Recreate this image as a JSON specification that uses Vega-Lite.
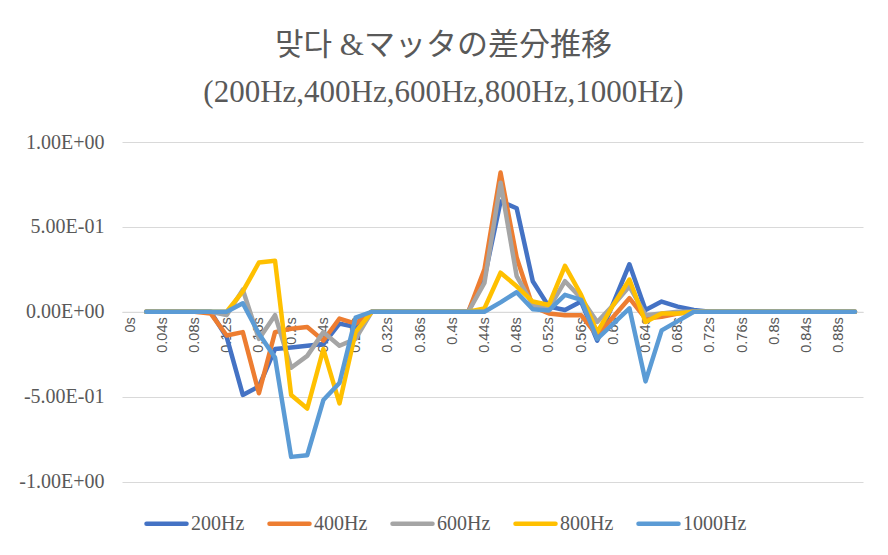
{
  "$schema": "https://vega.github.io/schema/vega-lite/v6.json",
  "width": 741,
  "height": 339.5,
  "autosize": {"type": "none"},
  "padding": {"left": 122, "top": 142, "right": 25, "bottom": 73.5},
  "background": "white",
  "title": {
    "text": ["맞다 &マッタの差分推移", "(200Hz,400Hz,600Hz,800Hz,1000Hz)"],
    "anchor": "middle",
    "dx": -49,
    "offset": 23,
    "fontSize": 31,
    "lineHeight": 47,
    "fontWeight": "normal",
    "font": "Liberation Serif, Noto Sans CJK KR, Noto Sans CJK JP",
    "color": "#595959"
  },
  "data": {
    "values": [
      {"t": 0.02, "s": "200Hz", "v": 0}, {"t": 0.04, "s": "200Hz", "v": 0}, {"t": 0.06, "s": "200Hz", "v": 0}, {"t": 0.08, "s": "200Hz", "v": 0},
      {"t": 0.1, "s": "200Hz", "v": 0}, {"t": 0.12, "s": "200Hz", "v": -0.15}, {"t": 0.14, "s": "200Hz", "v": -0.49}, {"t": 0.16, "s": "200Hz", "v": -0.44},
      {"t": 0.18, "s": "200Hz", "v": -0.22}, {"t": 0.2, "s": "200Hz", "v": -0.21}, {"t": 0.22, "s": "200Hz", "v": -0.2}, {"t": 0.24, "s": "200Hz", "v": -0.19},
      {"t": 0.26, "s": "200Hz", "v": -0.07}, {"t": 0.28, "s": "200Hz", "v": -0.09}, {"t": 0.3, "s": "200Hz", "v": 0}, {"t": 0.32, "s": "200Hz", "v": 0},
      {"t": 0.34, "s": "200Hz", "v": 0}, {"t": 0.36, "s": "200Hz", "v": 0}, {"t": 0.38, "s": "200Hz", "v": 0}, {"t": 0.4, "s": "200Hz", "v": 0},
      {"t": 0.42, "s": "200Hz", "v": 0}, {"t": 0.44, "s": "200Hz", "v": 0.2}, {"t": 0.46, "s": "200Hz", "v": 0.65}, {"t": 0.48, "s": "200Hz", "v": 0.61},
      {"t": 0.5, "s": "200Hz", "v": 0.18}, {"t": 0.52, "s": "200Hz", "v": 0.03}, {"t": 0.54, "s": "200Hz", "v": 0.01}, {"t": 0.56, "s": "200Hz", "v": 0.06},
      {"t": 0.58, "s": "200Hz", "v": -0.17}, {"t": 0.6, "s": "200Hz", "v": 0.05}, {"t": 0.62, "s": "200Hz", "v": 0.28}, {"t": 0.64, "s": "200Hz", "v": 0.01},
      {"t": 0.66, "s": "200Hz", "v": 0.06}, {"t": 0.68, "s": "200Hz", "v": 0.03}, {"t": 0.7, "s": "200Hz", "v": 0.01}, {"t": 0.72, "s": "200Hz", "v": 0},
      {"t": 0.74, "s": "200Hz", "v": 0}, {"t": 0.76, "s": "200Hz", "v": 0}, {"t": 0.78, "s": "200Hz", "v": 0}, {"t": 0.8, "s": "200Hz", "v": 0},
      {"t": 0.82, "s": "200Hz", "v": 0}, {"t": 0.84, "s": "200Hz", "v": 0}, {"t": 0.86, "s": "200Hz", "v": 0}, {"t": 0.88, "s": "200Hz", "v": 0},
      {"t": 0.9, "s": "200Hz", "v": 0},

      {"t": 0.02, "s": "400Hz", "v": 0}, {"t": 0.04, "s": "400Hz", "v": 0}, {"t": 0.06, "s": "400Hz", "v": 0}, {"t": 0.08, "s": "400Hz", "v": 0},
      {"t": 0.1, "s": "400Hz", "v": -0.01}, {"t": 0.12, "s": "400Hz", "v": -0.14}, {"t": 0.14, "s": "400Hz", "v": -0.12}, {"t": 0.16, "s": "400Hz", "v": -0.48},
      {"t": 0.18, "s": "400Hz", "v": -0.12}, {"t": 0.2, "s": "400Hz", "v": -0.1}, {"t": 0.22, "s": "400Hz", "v": -0.09}, {"t": 0.24, "s": "400Hz", "v": -0.17},
      {"t": 0.26, "s": "400Hz", "v": -0.04}, {"t": 0.28, "s": "400Hz", "v": -0.07}, {"t": 0.3, "s": "400Hz", "v": 0}, {"t": 0.32, "s": "400Hz", "v": 0},
      {"t": 0.34, "s": "400Hz", "v": 0}, {"t": 0.36, "s": "400Hz", "v": 0}, {"t": 0.38, "s": "400Hz", "v": 0}, {"t": 0.4, "s": "400Hz", "v": 0},
      {"t": 0.42, "s": "400Hz", "v": 0}, {"t": 0.44, "s": "400Hz", "v": 0.25}, {"t": 0.46, "s": "400Hz", "v": 0.82}, {"t": 0.48, "s": "400Hz", "v": 0.32},
      {"t": 0.5, "s": "400Hz", "v": 0.03}, {"t": 0.52, "s": "400Hz", "v": -0.01}, {"t": 0.54, "s": "400Hz", "v": -0.02}, {"t": 0.56, "s": "400Hz", "v": -0.02},
      {"t": 0.58, "s": "400Hz", "v": -0.14}, {"t": 0.6, "s": "400Hz", "v": -0.03}, {"t": 0.62, "s": "400Hz", "v": 0.08}, {"t": 0.64, "s": "400Hz", "v": -0.04},
      {"t": 0.66, "s": "400Hz", "v": -0.03}, {"t": 0.68, "s": "400Hz", "v": -0.01}, {"t": 0.7, "s": "400Hz", "v": 0}, {"t": 0.72, "s": "400Hz", "v": 0},
      {"t": 0.74, "s": "400Hz", "v": 0}, {"t": 0.76, "s": "400Hz", "v": 0}, {"t": 0.78, "s": "400Hz", "v": 0}, {"t": 0.8, "s": "400Hz", "v": 0},
      {"t": 0.82, "s": "400Hz", "v": 0}, {"t": 0.84, "s": "400Hz", "v": 0}, {"t": 0.86, "s": "400Hz", "v": 0}, {"t": 0.88, "s": "400Hz", "v": 0},
      {"t": 0.9, "s": "400Hz", "v": 0},

      {"t": 0.02, "s": "600Hz", "v": 0}, {"t": 0.04, "s": "600Hz", "v": 0}, {"t": 0.06, "s": "600Hz", "v": 0}, {"t": 0.08, "s": "600Hz", "v": 0},
      {"t": 0.1, "s": "600Hz", "v": 0}, {"t": 0.12, "s": "600Hz", "v": -0.02}, {"t": 0.14, "s": "600Hz", "v": 0.13}, {"t": 0.16, "s": "600Hz", "v": -0.16},
      {"t": 0.18, "s": "600Hz", "v": -0.02}, {"t": 0.2, "s": "600Hz", "v": -0.33}, {"t": 0.22, "s": "600Hz", "v": -0.26}, {"t": 0.24, "s": "600Hz", "v": -0.12},
      {"t": 0.26, "s": "600Hz", "v": -0.2}, {"t": 0.28, "s": "600Hz", "v": -0.16}, {"t": 0.3, "s": "600Hz", "v": 0}, {"t": 0.32, "s": "600Hz", "v": 0},
      {"t": 0.34, "s": "600Hz", "v": 0}, {"t": 0.36, "s": "600Hz", "v": 0}, {"t": 0.38, "s": "600Hz", "v": 0}, {"t": 0.4, "s": "600Hz", "v": 0},
      {"t": 0.42, "s": "600Hz", "v": 0}, {"t": 0.44, "s": "600Hz", "v": 0.17}, {"t": 0.46, "s": "600Hz", "v": 0.76}, {"t": 0.48, "s": "600Hz", "v": 0.21},
      {"t": 0.5, "s": "600Hz", "v": 0.04}, {"t": 0.52, "s": "600Hz", "v": 0.02}, {"t": 0.54, "s": "600Hz", "v": 0.18}, {"t": 0.56, "s": "600Hz", "v": 0.08},
      {"t": 0.58, "s": "600Hz", "v": -0.06}, {"t": 0.6, "s": "600Hz", "v": 0.04}, {"t": 0.62, "s": "600Hz", "v": 0.15}, {"t": 0.64, "s": "600Hz", "v": -0.02},
      {"t": 0.66, "s": "600Hz", "v": -0.01}, {"t": 0.68, "s": "600Hz", "v": 0}, {"t": 0.7, "s": "600Hz", "v": 0}, {"t": 0.72, "s": "600Hz", "v": 0},
      {"t": 0.74, "s": "600Hz", "v": 0}, {"t": 0.76, "s": "600Hz", "v": 0}, {"t": 0.78, "s": "600Hz", "v": 0}, {"t": 0.8, "s": "600Hz", "v": 0},
      {"t": 0.82, "s": "600Hz", "v": 0}, {"t": 0.84, "s": "600Hz", "v": 0}, {"t": 0.86, "s": "600Hz", "v": 0}, {"t": 0.88, "s": "600Hz", "v": 0},
      {"t": 0.9, "s": "600Hz", "v": 0},

      {"t": 0.02, "s": "800Hz", "v": 0}, {"t": 0.04, "s": "800Hz", "v": 0}, {"t": 0.06, "s": "800Hz", "v": 0}, {"t": 0.08, "s": "800Hz", "v": 0},
      {"t": 0.1, "s": "800Hz", "v": 0}, {"t": 0.12, "s": "800Hz", "v": 0}, {"t": 0.14, "s": "800Hz", "v": 0.12}, {"t": 0.16, "s": "800Hz", "v": 0.29},
      {"t": 0.18, "s": "800Hz", "v": 0.3}, {"t": 0.2, "s": "800Hz", "v": -0.49}, {"t": 0.22, "s": "800Hz", "v": -0.57}, {"t": 0.24, "s": "800Hz", "v": -0.22},
      {"t": 0.26, "s": "800Hz", "v": -0.54}, {"t": 0.28, "s": "800Hz", "v": -0.12}, {"t": 0.3, "s": "800Hz", "v": 0}, {"t": 0.32, "s": "800Hz", "v": 0},
      {"t": 0.34, "s": "800Hz", "v": 0}, {"t": 0.36, "s": "800Hz", "v": 0}, {"t": 0.38, "s": "800Hz", "v": 0}, {"t": 0.4, "s": "800Hz", "v": 0},
      {"t": 0.42, "s": "800Hz", "v": 0}, {"t": 0.44, "s": "800Hz", "v": 0.02}, {"t": 0.46, "s": "800Hz", "v": 0.23}, {"t": 0.48, "s": "800Hz", "v": 0.15},
      {"t": 0.5, "s": "800Hz", "v": 0.06}, {"t": 0.52, "s": "800Hz", "v": 0.04}, {"t": 0.54, "s": "800Hz", "v": 0.27}, {"t": 0.56, "s": "800Hz", "v": 0.1},
      {"t": 0.58, "s": "800Hz", "v": -0.12}, {"t": 0.6, "s": "800Hz", "v": 0.04}, {"t": 0.62, "s": "800Hz", "v": 0.19}, {"t": 0.64, "s": "800Hz", "v": -0.06},
      {"t": 0.66, "s": "800Hz", "v": -0.01}, {"t": 0.68, "s": "800Hz", "v": -0.01}, {"t": 0.7, "s": "800Hz", "v": 0}, {"t": 0.72, "s": "800Hz", "v": 0},
      {"t": 0.74, "s": "800Hz", "v": 0}, {"t": 0.76, "s": "800Hz", "v": 0}, {"t": 0.78, "s": "800Hz", "v": 0}, {"t": 0.8, "s": "800Hz", "v": 0},
      {"t": 0.82, "s": "800Hz", "v": 0}, {"t": 0.84, "s": "800Hz", "v": 0}, {"t": 0.86, "s": "800Hz", "v": 0}, {"t": 0.88, "s": "800Hz", "v": 0},
      {"t": 0.9, "s": "800Hz", "v": 0},

      {"t": 0.02, "s": "1000Hz", "v": 0}, {"t": 0.04, "s": "1000Hz", "v": 0}, {"t": 0.06, "s": "1000Hz", "v": 0}, {"t": 0.08, "s": "1000Hz", "v": 0},
      {"t": 0.1, "s": "1000Hz", "v": 0}, {"t": 0.12, "s": "1000Hz", "v": 0}, {"t": 0.14, "s": "1000Hz", "v": 0.05}, {"t": 0.16, "s": "1000Hz", "v": -0.13},
      {"t": 0.18, "s": "1000Hz", "v": -0.27}, {"t": 0.2, "s": "1000Hz", "v": -0.855}, {"t": 0.22, "s": "1000Hz", "v": -0.845}, {"t": 0.24, "s": "1000Hz", "v": -0.52},
      {"t": 0.26, "s": "1000Hz", "v": -0.42}, {"t": 0.28, "s": "1000Hz", "v": -0.035}, {"t": 0.3, "s": "1000Hz", "v": 0}, {"t": 0.32, "s": "1000Hz", "v": 0},
      {"t": 0.34, "s": "1000Hz", "v": 0}, {"t": 0.36, "s": "1000Hz", "v": 0}, {"t": 0.38, "s": "1000Hz", "v": 0}, {"t": 0.4, "s": "1000Hz", "v": 0},
      {"t": 0.42, "s": "1000Hz", "v": 0}, {"t": 0.44, "s": "1000Hz", "v": 0}, {"t": 0.46, "s": "1000Hz", "v": 0.055}, {"t": 0.48, "s": "1000Hz", "v": 0.115},
      {"t": 0.5, "s": "1000Hz", "v": 0.015}, {"t": 0.52, "s": "1000Hz", "v": 0.008}, {"t": 0.54, "s": "1000Hz", "v": 0.1}, {"t": 0.56, "s": "1000Hz", "v": 0.07},
      {"t": 0.58, "s": "1000Hz", "v": -0.16}, {"t": 0.6, "s": "1000Hz", "v": -0.07}, {"t": 0.62, "s": "1000Hz", "v": 0.02}, {"t": 0.64, "s": "1000Hz", "v": -0.41},
      {"t": 0.66, "s": "1000Hz", "v": -0.11}, {"t": 0.68, "s": "1000Hz", "v": -0.055}, {"t": 0.7, "s": "1000Hz", "v": 0}, {"t": 0.72, "s": "1000Hz", "v": 0},
      {"t": 0.74, "s": "1000Hz", "v": 0}, {"t": 0.76, "s": "1000Hz", "v": 0}, {"t": 0.78, "s": "1000Hz", "v": 0}, {"t": 0.8, "s": "1000Hz", "v": 0},
      {"t": 0.82, "s": "1000Hz", "v": 0}, {"t": 0.84, "s": "1000Hz", "v": 0}, {"t": 0.86, "s": "1000Hz", "v": 0}, {"t": 0.88, "s": "1000Hz", "v": 0},
      {"t": 0.9, "s": "1000Hz", "v": 0}
    ]
  },
  "mark": {
    "type": "line",
    "strokeWidth": 4.5,
    "strokeCap": "round",
    "strokeJoin": "round"
  },
  "encoding": {
    "x": {
      "field": "t",
      "type": "quantitative",
      "scale": {"domain": [-0.01, 0.91], "nice": false, "zero": false},
      "axis": {
        "title": null,
        "values": [0, 0.04, 0.08, 0.12, 0.16, 0.2, 0.24, 0.28, 0.32, 0.36, 0.4, 0.44, 0.48, 0.52, 0.56, 0.6, 0.64, 0.68, 0.72, 0.76, 0.8, 0.84, 0.88],
        "format": ".2~f",
        "labelExpr": "datum.label + 's'",
        "labelAngle": -90,
        "labelPadding": 5,
        "labelFont": "Liberation Sans",
        "labelFontSize": 14.5,
        "labelColor": "#595959",
        "labelFlush": false,
        "labelOverlap": false,
        "offset": -169.75,
        "ticks": false,
        "grid": false,
        "domainColor": "#D9D9D9",
        "domainWidth": 1
      }
    },
    "y": {
      "field": "v",
      "type": "quantitative",
      "scale": {"domain": [-1, 1], "nice": false},
      "axis": {
        "title": null,
        "values": [-1, -0.5, 0, 0.5, 1],
        "labelExpr": "datum.value == 1 ? '1.00E+00' : datum.value == 0.5 ? '5.00E-01' : datum.value == 0 ? '0.00E+00' : datum.value == -0.5 ? '-5.00E-01' : '-1.00E+00'",
        "labelFont": "Liberation Serif",
        "labelFontSize": 20,
        "labelColor": "#595959",
        "labelPadding": 18,
        "ticks": false,
        "domain": false,
        "grid": true,
        "gridColor": "#D9D9D9",
        "gridWidth": 1
      }
    },
    "color": {
      "field": "s",
      "type": "nominal",
      "scale": {
        "domain": ["200Hz", "400Hz", "600Hz", "800Hz", "1000Hz"],
        "range": ["#4472C4", "#ED7D31", "#A5A5A5", "#FFC000", "#5B9BD5"]
      },
      "legend": {
        "title": null,
        "orient": "none",
        "direction": "horizontal",
        "legendX": 22,
        "legendY": 359,
        "symbolType": "stroke",
        "symbolSize": 1600,
        "symbolStrokeWidth": 4.5,
        "labelFont": "Liberation Serif",
        "labelFontSize": 20,
        "labelColor": "#595959",
        "labelOffset": 2,
        "columnPadding": 15,
        "padding": 0,
        "encode": {"symbols": {"update": {"strokeCap": {"value": "round"}}}}
      }
    }
  },
  "config": {
    "view": {"stroke": null}
  }
}
